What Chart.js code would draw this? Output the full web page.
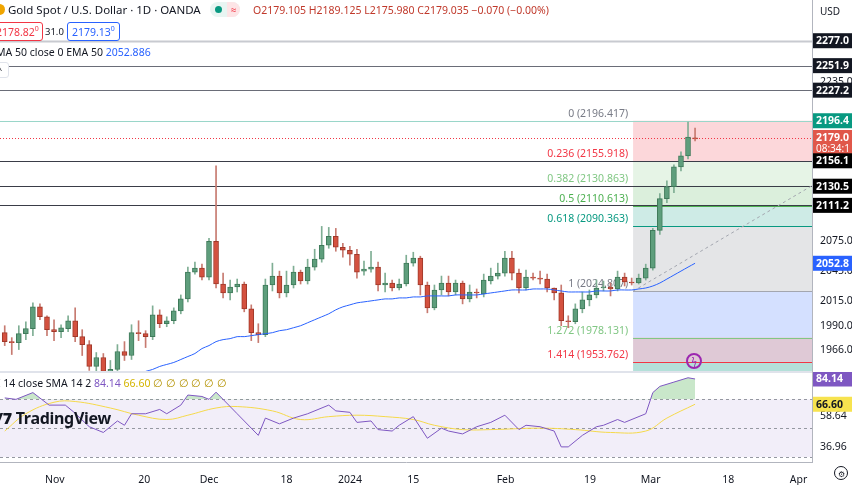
<!DOCTYPE html>
<html><head><meta charset="utf-8">
<script src="https://cdn.jsdelivr.net/npm/chart.js@4/dist/chart.umd.min.js"></script>
<style>
body{margin:0;background:#fff;font-family:"Noto Sans",Roboto,sans-serif;overflow:hidden;width:852px;height:485px;position:relative}
#c1{position:absolute;left:0;top:0}
#c2{position:absolute;left:0;top:372px}
.t{position:absolute;white-space:nowrap;font-size:11.5px;color:#131722}
.sep{position:absolute;left:0;width:812px;height:2px;background:#e0e3eb}
</style></head><body>
<canvas id="c1" width="852" height="372"></canvas>
<canvas id="c2" width="852" height="113"></canvas>
<div class="sep" style="top:371px"></div>
<div class="t" style="left:-6px;top:2px;font-size:11.5px"><span style="display:inline-block;width:11px;height:11px;border-radius:50%;background:#f0a500;vertical-align:-1px"></span> Gold Spot / U.S. Dollar · 1D · OANDA</div>
<div class="t" style="left:210px;top:2px;width:30px;height:15px;border-radius:8px;background:#e8f5f2"><span style="position:absolute;left:5px;top:4px;width:7px;height:7px;border-radius:50%;background:#089981"></span><span style="position:absolute;left:17px;top:0;width:13px;height:15px;border-radius:0 8px 8px 0;background:#fde4e6;color:#f23645;font-size:10px;text-align:center">≈</span></div>
<div class="t" style="left:253px;top:3px;font-size:10.5px;color:#c0392b">O2179.105 H2189.125 L2175.980 C2179.035 −0.070 (−0.00%)</div>
<div class="t" style="left:-8px;top:22px;border:1px solid #f23645;border-radius:3px;color:#f23645;padding:1px 3px;font-size:10.5px">2178.82<sup style="font-size:7px">0</sup></div>
<div class="t" style="left:45px;top:25px;font-size:9.5px">31.0</div>
<div class="t" style="left:67px;top:22px;border:1px solid #2962ff;border-radius:3px;color:#2962ff;padding:1px 4px;font-size:10.5px">2179.13<sup style="font-size:7px">0</sup></div>
<div class="t" style="left:-4px;top:45px;font-size:10.5px">MA 50 close 0 EMA 50 <span style="color:#2962ff">2052.886</span></div>
<div class="t" style="left:-4px;top:62px;width:11px;height:14px;border:1px solid #e0e3eb;border-radius:3px;font-size:9px;background:#fff">^</div>
<div class="t" style="left:-3px;top:376px;font-size:10.5px">I 14 close SMA 14 2 <span style="color:#7e57c2">84.14</span> <span style="color:#d4b500">66.60</span> <span style="color:#b39200">∅ ∅ ∅ ∅ ∅ ∅</span></div>
<div class="t" style="left:-4px;top:407px;font-size:16px;font-weight:700;color:#131722;letter-spacing:-0.3px"><span style="font-weight:900">/7</span> TradingView</div>
<div class="t" style="left:820px;top:4px;font-size:10px">USD</div>
<div class="t" style="left:686px;top:353px;width:16px;height:16px;border:2px solid #9c27b0;border-radius:50%;font-size:10px;color:#9c27b0;text-align:center;line-height:13px;box-sizing:border-box">ϟ</div>
<div class="t" style="left:834px;top:466px;width:14px;height:14px;border:1px solid #131722;border-radius:50%;font-size:8px;text-align:center;line-height:14px;box-sizing:border-box">⚙</div>
<script>
// ---- data ----
const opens = [1983,1974,1973,1982,1987,2009,1999,1986,1984,1987,1995,1979,1971,1949,1958,1944,1946,1964,1960,1983,1982,1979,2001,1992,1995,2005,2017,2044,2048,2039,2075,2032,2023,2029,2032,2007,1983,1981,2031,2040,2023,2031,2044,2035,2049,2057,2071,2080,2069,2066,2062,2045,2047,2049,2031,2033,2028,2032,2053,2058,2031,2008,2026,2033,2024,2033,2017,2024,2022,2035,2040,2043,2058,2043,2028,2039,2038,2037,2028,2023,1995,1994,2007,2016,2021,2028,2029,2027,2039,2034,2033,2038,2048,2086,2118,2130,2150,2161,2179.105];
const closes = [1974,1973,1982,1987,2009,1999,1986,1984,1988,1995,1979,1971,1949,1958,1944,1946,1964,1960,1983,1982,1979,2001,1992,1995,2005,2017,2044,2048,2039,2075,2032,2023,2029,2032,2007,1983,1981,2031,2040,2023,2031,2044,2035,2049,2057,2071,2080,2069,2066,2062,2044,2047,2049,2031,2033,2028,2032,2053,2058,2031,2008,2026,2033,2024,2033,2017,2024,2023,2036,2040,2043,2058,2043,2028,2039,2038,2037,2028,2023,1995,1994,2007,2016,2021,2028,2029,2027,2039,2034,2033,2038,2048,2086,2118,2130,2150,2161,2180,2179.035];
const highs = [1990,1978,1990,1994,2013,2012,2000,1996,1991,2000,2008,1986,1975,1963,1962,1955,1971,1974,1991,1995,1985,2010,2006,1999,2008,2021,2049,2054,2052,2078,2151,2043,2036,2037,2034,2011,1992,2037,2053,2045,2045,2050,2046,2057,2067,2090,2089,2088,2073,2070,2067,2055,2065,2054,2043,2036,2037,2061,2064,2060,2034,2031,2040,2040,2036,2035,2031,2027,2042,2048,2053,2065,2065,2047,2046,2043,2045,2042,2028,2031,2000,2012,2024,2026,2036,2035,2033,2045,2043,2038,2042,2052,2088,2123,2136,2152,2165,2195,2189.125];
const lows = [1970,1961,1966,1976,1980,1996,1980,1975,1978,1984,1974,1960,1945,1944,1940,1940,1942,1955,1956,1975,1968,1976,1988,1989,1992,2002,2014,2042,2036,2036,2028,2018,2016,2024,2004,1975,1973,1979,2025,2018,2019,2028,2032,2032,2046,2054,2068,2065,2059,2051,2038,2041,2044,2025,2024,2025,2026,2030,2050,2021,2003,2006,2021,2020,2021,2012,2014,2018,2019,2032,2037,2040,2036,2023,2026,2036,2032,2024,2016,1990,1988,1992,2003,2010,2018,2025,2020,2025,2030,2031,2032,2036,2046,2082,2114,2124,2146,2158,2175.98];
const ema50 = [null,null,null,null,null,null,null,null,null,null,null,null,null,null,null,null,null,null,null,null,1944,1946,1949,1951,1953,1956,1959,1962,1967,1970,1974,1976,1977,1979,1979,1980,1981,1982,1983,1985,1986,1988,1990,1993,1996,1999,2002,2006,2009,2011,2013,2014,2015,2016,2017,2017,2018,2018,2019,2019,2020,2020,2020,2020,2021,2021,2021,2021,2022,2023,2024,2025,2026,2026,2026,2027,2027,2027,2026,2025,2024,2024,2024,2024,2025,2025,2025,2026,2026,2026,2027,2028,2030,2033,2037,2041,2045,2049,2052.886];
const rsiIdx = [0,1.6,4,6.3,8.6,9.7,12,14,16,17,18,20,22,23,25,26,28,29,30,33,36,37,39,41,43,46,47,49,50,52,53,55,56,58,60,62,63,65,67,69,71,73,74,76,78,79,80,82,84,85,87,88,91,92,93,95,97,98];
const rsiVal = [71,70,74.7,66,66,61.6,51,47,55,52,60,60,63,60,66,73,72,70,75,60,45,57,53,57,60,66,62,61,54,55,49,48,52,58,43,50,48,46,51,54,59,49,52,51,48,37,37,45,51,52,56,54,60,74.7,79,82,85,84.14];
const smaIdx = [0,3,7,10,15,19,23,26,30,33,38,42,46,50,54,58,61,65,69,76,81,86,91,94,98];
const smaVal = [48,60,68,68.5,64,59,56,59,64,65,62,56,58,59,58,56,52,49,49,50,49,47,48,57,66.6];
const dateTickPos = [7.1,19.8,29,40,49,58,71.1,83.1,91.7,102.7,112.7];
const dateTickLabels = ['Nov','20','Dec','18','2024','15','Feb','19','Mar','18','Apr'];
const priceTicks = [2235,2075,2045,2015,1990,1966];
const hLines = [2277.0,2251.9,2227.2,2156.1,2130.5,2111.2];
const fibRatios = [0,0.236,0.382,0.5,0.618,1,1.272,1.414,1.618];
const fibPrices = [2196.417,2155.918,2130.863,2110.613,2090.363,2024.807,1978.131,1953.762,1918.765];
const rsiTicks = [58.64,36.96];

const XMIN=-0.67, XMAX=114.6, fibStart=89.2;
const fibLine=['#9ad6c9','#f23645','#81c784','#4caf50','#089981','#a3a6af','#81c784','#f23645','#089981'];
const fibFill=['rgba(242,54,69,0.2)','rgba(129,199,132,0.2)','rgba(76,175,80,0.2)','rgba(8,153,129,0.2)','rgba(120,123,134,0.2)','rgba(41,98,255,0.2)','rgba(128,40,90,0.25)','rgba(8,153,129,0.3)'];
const fibText=['#787b86','#f23645','#81c784','#4caf50','#089981','#787b86','#81c784','#f23645'];
const idx = opens.map((_,i)=>i);
const up = idx.map(i=>closes[i]>=opens[i]);

function box(ctx,y,bg,txt,fg,h){h=h||15;ctx.fillStyle=bg;ctx.fillRect(813,y-h/2,40,h);ctx.fillStyle=fg||'#fff';ctx.font='bold 10.5px "Noto Sans"';ctx.textBaseline='middle';ctx.textAlign='left';ctx.fillText(txt,816,y+0.5);}
function tickText(ctx,y,txt){ctx.fillStyle='#131722';ctx.font='10.5px "Noto Sans"';ctx.textBaseline='middle';ctx.textAlign='left';ctx.fillText(txt,820,y);}

const pricePlugin={id:'pp',
 beforeDatasetsDraw(ch){const c=ch.ctx,x=ch.scales.x,y=ch.scales.y,a=ch.chartArea;c.save();
  c.beginPath();c.rect(a.left,a.top,a.right-a.left,a.bottom-a.top);c.clip();
  const x0=x.getPixelForValue(fibStart);
  for(let k=0;k<fibPrices.length-1;k++){const y1=y.getPixelForValue(fibPrices[k]),y2=y.getPixelForValue(fibPrices[k+1]);c.fillStyle=fibFill[k];c.fillRect(x0,y1,a.right-x0,y2-y1);}
  for(let k=0;k<fibPrices.length;k++){const yy=Math.round(y.getPixelForValue(fibPrices[k]))+0.5;c.strokeStyle=fibLine[k];c.lineWidth=1;c.beginPath();c.moveTo(k==0?0:x0,yy);c.lineTo(a.right,yy);c.stroke();
   if(k<8){c.fillStyle=fibText[k];c.font='10.5px "Noto Sans"';c.textAlign='right';c.textBaseline='bottom';c.fillText(fibRatios[k]+' ('+fibPrices[k].toFixed(3)+')',x0-5,yy-2);}}
  hLines.forEach((v,k)=>{const yy=Math.round(y.getPixelForValue(v))+0.5;c.strokeStyle=k==0?'#c8cad0':(k<3?'#6a6d78':'#3a3d48');c.lineWidth=k==0?2:1;c.beginPath();c.moveTo(0,yy);c.lineTo(a.right,yy);c.stroke();});
  c.setLineDash([3,3]);c.strokeStyle='#a3a6af';c.beginPath();c.moveTo(x0,y.getPixelForValue(2024.8));c.lineTo(a.right,y.getPixelForValue(2131));c.stroke();
  c.strokeStyle='#f23645';c.setLineDash([1,2]);const yc=Math.round(y.getPixelForValue(2179.035))+0.5;c.beginPath();c.moveTo(0,yc);c.lineTo(a.right,yc);c.stroke();
  c.restore();},
 afterDraw(ch){const c=ch.ctx,y=ch.scales.y;c.save();
  priceTicks.forEach(v=>tickText(c,y.getPixelForValue(v),v.toFixed(1)));
  [2277.0,2251.9,2227.2].forEach(v=>box(c,y.getPixelForValue(v),'#131722',v.toFixed(1)));
  box(c,y.getPixelForValue(2196.417),'#089981','2196.4');
  const yc=y.getPixelForValue(2179.035);c.fillStyle='#e0574a';c.fillRect(813,yc-8,40,24);c.fillStyle='#fff';c.font='bold 10.5px "Noto Sans"';c.textBaseline='middle';c.fillText('2179.0',816,yc);c.font='10px "Noto Sans"';c.fillText('08:34:1',816,yc+11);
  [2156.1,2130.5,2111.2].forEach(v=>box(c,y.getPixelForValue(v),'#000',v.toFixed(1)));
  box(c,y.getPixelForValue(2052.886),'#2962ff','2052.8');
  c.restore();}
};
new Chart(document.getElementById('c1'),{type:'bar',
 data:{datasets:[
  {type:'line',data:idx.map(i=>({x:i,y:ema50[i]})),borderColor:'#2962ff',borderWidth:1,pointRadius:0,tension:0.3,order:0},
  {data:idx.map(i=>({x:i,y:[lows[i],highs[i]]})),backgroundColor:idx.map(i=>up[i]?'#7fae94':'#c77a70'),barThickness:1,grouped:false,order:2},
  {data:idx.map(i=>({x:i,y:[opens[i],Math.abs(closes[i]-opens[i])<1?opens[i]+(up[i]?1:-1):closes[i]]})),backgroundColor:idx.map(i=>up[i]?'#5e9e7c':'#d4513f'),borderColor:idx.map(i=>up[i]?'#3f7a5a':'#a0392a'),borderWidth:1,borderSkipped:false,barThickness:5,grouped:false,order:1}
 ]},
 options:{animation:false,responsive:false,events:[],layout:{padding:0},
  plugins:{legend:{display:false},tooltip:{enabled:false}},
  scales:{x:{type:'linear',min:XMIN,max:XMAX,display:false,offset:false},
   y:{position:'right',min:1943.4,max:2318,afterFit(s){s.width=40;},afterBuildTicks(s){s.ticks=priceTicks.map(v=>({value:v}));},
    grid:{display:false,drawTicks:false},border:{color:'#b2b5be'},ticks:{display:false}}}},
 plugins:[pricePlugin]});

const rsiPlugin={id:'rp',
 beforeDatasetsDraw(ch){const c=ch.ctx,y=ch.scales.y,a=ch.chartArea;c.save();
  const y70=y.getPixelForValue(70),y30=y.getPixelForValue(30);c.fillStyle='rgba(126,87,194,0.1)';c.fillRect(0,y70,a.right,y30-y70);
  c.setLineDash([3,3]);c.strokeStyle='#9598a1';c.lineWidth=1;[70,50,30].forEach(v=>{const yy=Math.round(y.getPixelForValue(v))+0.5;c.beginPath();c.moveTo(0,yy);c.lineTo(a.right,yy);c.stroke();});
  c.restore();},
 afterDraw(ch){const c=ch.ctx,y=ch.scales.y;c.save();rsiTicks.forEach(v=>tickText(c,y.getPixelForValue(v),v.toFixed(2)));box(c,y.getPixelForValue(84.14),'#7e57c2','84.14');box(c,y.getPixelForValue(66.6),'#f7e34f','66.60','#131722');c.restore();}
};
new Chart(document.getElementById('c2'),{type:'line',
 data:{datasets:[
  {data:rsiIdx.map((v,i)=>({x:v,y:rsiVal[i]})),borderColor:'#7e57c2',borderWidth:1,pointRadius:0,fill:{target:{value:70},above:'rgba(76,175,80,0.3)',below:'rgba(0,0,0,0)'}},
  {data:smaIdx.map((v,i)=>({x:v,y:smaVal[i]})),borderColor:'#f5d94a',borderWidth:1,pointRadius:0,tension:0.4}
 ]},
 options:{animation:false,responsive:false,events:[],layout:{padding:0},
  plugins:{legend:{display:false},tooltip:{enabled:false}},
  scales:{x:{type:'linear',min:XMIN,max:XMAX,afterFit(s){s.height=23;},afterBuildTicks(s){s.ticks=dateTickPos.map(v=>({value:v}));},
    grid:{display:false},border:{color:'#b2b5be'},ticks:{autoSkip:false,maxRotation:0,padding:4,color:'#131722',font:{size:10.5,family:'Noto Sans'},callback:(v,i)=>dateTickLabels[i]}},
   y:{position:'right',min:26.5,max:89,afterFit(s){s.width=40;},afterBuildTicks(s){s.ticks=rsiTicks.map(v=>({value:v}));},
    grid:{display:false,drawTicks:false},border:{color:'#b2b5be'},ticks:{display:false}}}},
 plugins:[rsiPlugin]});
</script></body></html>
